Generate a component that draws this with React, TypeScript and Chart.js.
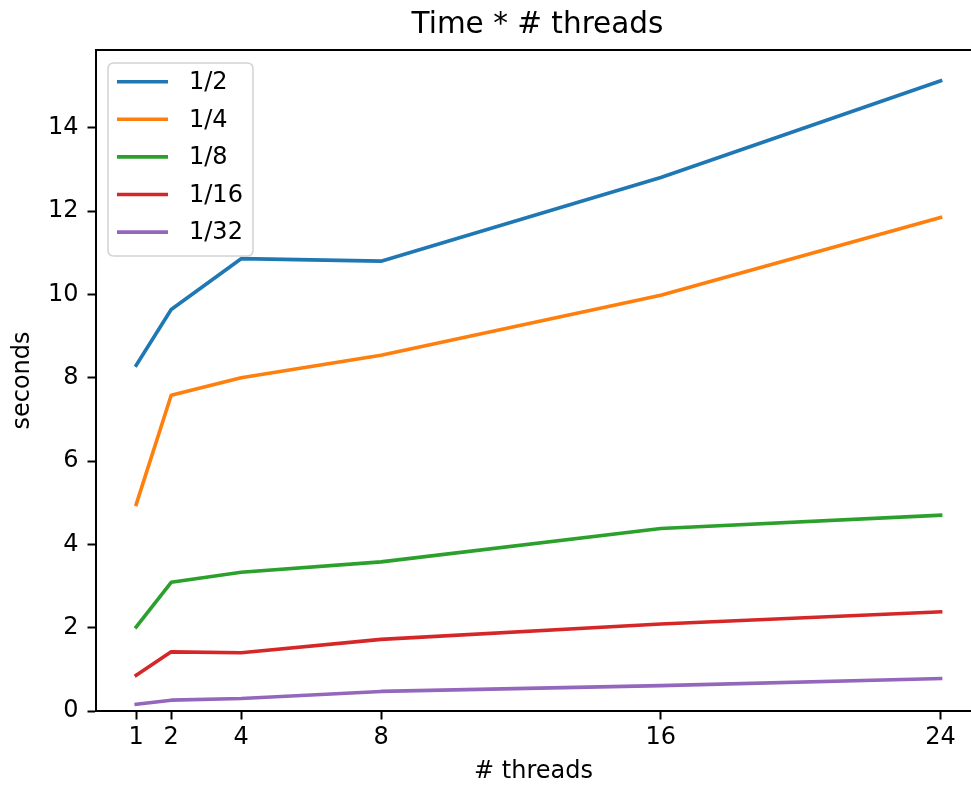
import React, { useEffect, useRef } from 'react';
import { Chart, registerables } from 'chart.js';

Chart.register(...registerables);

// ---- data ----
const threads = [1, 2, 4, 8, 16, 24];
const seriesLabels = ['1/2', '1/4', '1/8', '1/16', '1/32'];
const half = [8.30, 9.64, 10.86, 10.80, 12.81, 15.13];
const quarter = [4.96, 7.58, 8.00, 8.54, 9.98, 11.85];
const eighth = [2.02, 3.09, 3.33, 3.58, 4.38, 4.70];
const sixteenth = [0.86, 1.42, 1.40, 1.72, 2.09, 2.38];
const thirtySecond = [0.16, 0.26, 0.30, 0.47, 0.61, 0.78];
const xTicks = [1, 2, 4, 8, 16, 24];
const yTicks = [0, 2, 4, 6, 8, 10, 12, 14];
const titleText = 'Time * # threads';
const xTitle = '# threads';
const yTitle = 'seconds';

const colors = ['#1f77b4', '#ff7f0e', '#2ca02c', '#d62728', '#9467bd'];
const FONT = '"DejaVu Sans", sans-serif';
const FS = 24;

const framePlugin = {
  id: 'frame',
  afterDraw(chart: any) {
    const { ctx, chartArea } = chart;
    ctx.save();
    // top spine
    ctx.strokeStyle = '#000';
    ctx.lineWidth = 2;
    ctx.beginPath();
    ctx.moveTo(chartArea.left - 1, chartArea.top);
    ctx.lineTo(chart.width, chartArea.top);
    ctx.stroke();

    // title
    ctx.fillStyle = '#000';
    ctx.font = `29.5px ${FONT}`;
    ctx.textAlign = 'center';
    ctx.textBaseline = 'alphabetic';
    ctx.fillText(titleText, 537.5, 33);

    // legend
    const bx = 108, by = 63, bw = 145, bh = 193, r = 6;
    ctx.beginPath();
    ctx.moveTo(bx + r, by);
    ctx.lineTo(bx + bw - r, by);
    ctx.quadraticCurveTo(bx + bw, by, bx + bw, by + r);
    ctx.lineTo(bx + bw, by + bh - r);
    ctx.quadraticCurveTo(bx + bw, by + bh, bx + bw - r, by + bh);
    ctx.lineTo(bx + r, by + bh);
    ctx.quadraticCurveTo(bx, by + bh, bx, by + bh - r);
    ctx.lineTo(bx, by + r);
    ctx.quadraticCurveTo(bx, by, bx + r, by);
    ctx.closePath();
    ctx.fillStyle = 'rgba(255,255,255,0.8)';
    ctx.fill();
    ctx.strokeStyle = '#d2d2d2';
    ctx.lineWidth = 1.5;
    ctx.stroke();

    const ds = chart.data.datasets;
    ctx.font = `${FS}px ${FONT}`;
    ctx.textAlign = 'left';
    ctx.textBaseline = 'middle';
    ds.forEach((d: any, i: number) => {
      const y = 81.7 + i * 37.6;
      ctx.strokeStyle = d.borderColor;
      ctx.lineWidth = 3.6;
      ctx.lineCap = 'butt';
      ctx.beginPath();
      ctx.moveTo(117, y);
      ctx.lineTo(168, y);
      ctx.stroke();
      ctx.fillStyle = '#000';
      ctx.fillText(d.label, 189, y + 1);
    });
    ctx.restore();
  },
};

export default function App() {
  const ref = useRef<HTMLCanvasElement>(null);
  useEffect(() => {
    const canvas = ref.current!;
    const series = [half, quarter, eighth, sixteenth, thirtySecond];
    const chart = new Chart(canvas, {
      type: 'line',
      data: {
        datasets: series.map((vals, i) => ({
          label: seriesLabels[i],
          data: threads.map((t, j) => ({ x: t, y: vals[j] })),
          borderColor: colors[i],
          backgroundColor: colors[i],
          borderWidth: 3.6,
          pointRadius: 0,
          pointHoverRadius: 0,
          tension: 0,
          fill: false,
          borderCapStyle: 'square',
          borderJoinStyle: 'round',
        })),
      },
      options: {
        responsive: false,
        animation: false,
        devicePixelRatio: 1,
        events: [],
        layout: { padding: { top: 50, left: 0, right: 0, bottom: 0 } },
        plugins: {
          legend: { display: false },
          title: { display: false },
          tooltip: { enabled: false },
        },
        scales: {
          x: {
            type: 'linear',
            min: -0.15,
            max: 24.87,
            afterBuildTicks: (s: any) => {
              s.ticks = xTicks.map((v) => ({ value: v }));
            },
            afterFit: (s: any) => {
              s.height = 76;
            },
            grid: {
              display: true,
              drawOnChartArea: false,
              drawTicks: true,
              tickLength: 8.5,
              tickWidth: 2,
              tickColor: '#000',
            },
            border: { display: true, color: '#000', width: 2 },
            ticks: {
              font: { family: FONT, size: FS },
              color: '#000',
              padding: 4,
              maxRotation: 0,
              autoSkip: false,
            },
            title: {
              display: true,
              text: xTitle,
              font: { family: FONT, size: FS },
              color: '#000',
              padding: { top: 0, bottom: 1 },
            },
          },
          y: {
            type: 'linear',
            min: 0,
            max: 15.87,
            afterBuildTicks: (s: any) => {
              s.ticks = yTicks.map((v) => ({ value: v }));
            },
            afterFit: (s: any) => {
              s.width = 96;
            },
            grid: {
              display: true,
              drawOnChartArea: false,
              drawTicks: true,
              tickLength: 8.5,
              tickWidth: 2,
              tickColor: '#000',
            },
            border: { display: true, color: '#000', width: 2 },
            ticks: {
              font: { family: FONT, size: FS },
              color: '#000',
              padding: 9,
            },
            title: {
              display: true,
              text: yTitle,
              font: { family: FONT, size: FS },
              color: '#000',
              padding: { top: 8, bottom: 0 },
            },
          },
        },
      } as any,
      plugins: [framePlugin],
    });
    return () => chart.destroy();
  }, []);
  return (
    <div style={{ position: 'fixed', left: 0, top: 0, width: 971, height: 787, background: '#fff' }}>
      <canvas ref={ref} width={971} height={787} style={{ display: 'block' }} />
    </div>
  );
}
